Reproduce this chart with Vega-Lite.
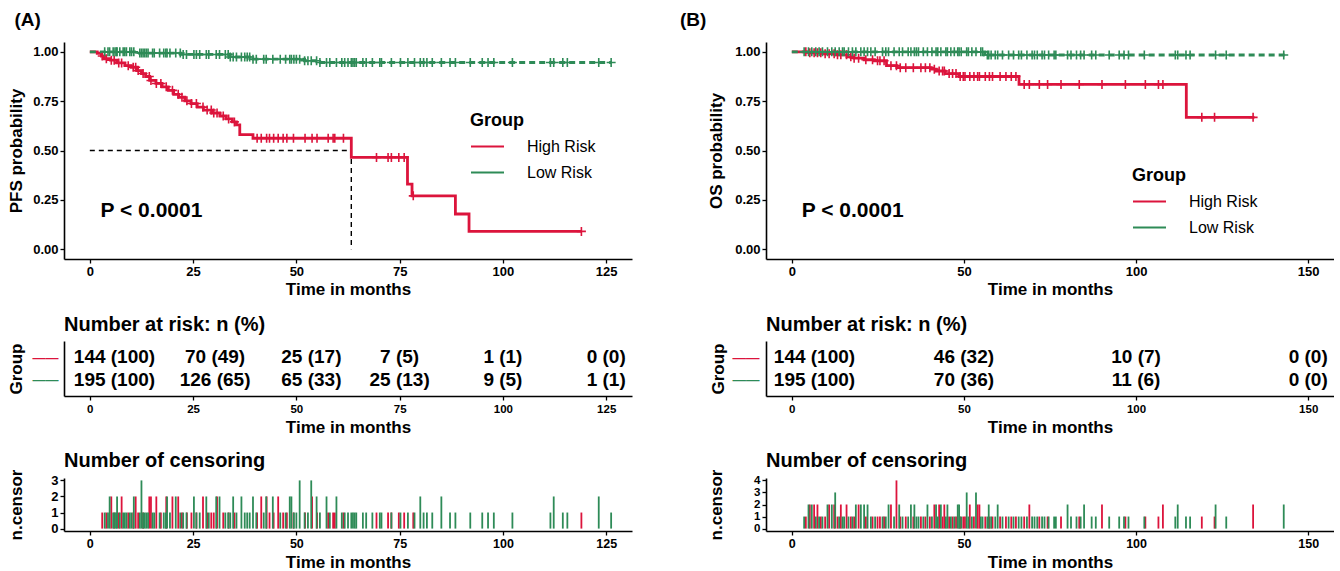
{
"$schema": "https://vega.github.io/schema/vega-lite/v6.json",
"background": "white",
"padding": {"left": 7, "top": 11, "right": 0, "bottom": 0},
"spacing": 48,
"resolve": {"scale": {"color": "independent"}, "legend": {"color": "independent"}},
"config": {
  "font": "Liberation Sans",
  "view": {"stroke": null},
  "axis": {"grid": false, "domainColor": "#000", "domainWidth": 1.6, "tickColor": "#000", "tickWidth": 1.3, "tickSize": 4, "labelColor": "#000", "labelFontWeight": "bold", "labelFontSize": 13, "labelPadding": 2, "titleColor": "#000", "titleFontWeight": "bold", "titleFontSize": 17, "titlePadding": 3},
  "title": {"color": "#000", "fontWeight": "bold", "anchor": "start"},
  "legend": {"symbolType": "stroke", "symbolSize": 1089, "symbolStrokeWidth": 2, "labelFontSize": 16, "labelFontWeight": "normal", "labelColor": "#000", "titleFontSize": 18, "titleFontWeight": "bold", "titleColor": "#000", "labelOffset": 22, "rowPadding": -7, "titlePadding": -1, "symbolDash": [1, 0]}
},
"datasets": {
  "curveA": [
    {"group":"High Risk","time":0,"surv":1},{"group":"High Risk","time":1.8,"surv":0.993},{"group":"High Risk","time":2.8,"surv":0.979},{"group":"High Risk","time":3.5,"surv":0.965},{"group":"High Risk","time":5,"surv":0.958},{"group":"High Risk","time":6.5,"surv":0.944},{"group":"High Risk","time":8.5,"surv":0.93},{"group":"High Risk","time":10,"surv":0.922},{"group":"High Risk","time":11.5,"surv":0.905},{"group":"High Risk","time":12.5,"surv":0.89},{"group":"High Risk","time":13.5,"surv":0.875},{"group":"High Risk","time":14.5,"surv":0.855},{"group":"High Risk","time":16,"surv":0.84},{"group":"High Risk","time":17.5,"surv":0.823},{"group":"High Risk","time":19,"surv":0.805},{"group":"High Risk","time":20.3,"surv":0.785},{"group":"High Risk","time":21.5,"surv":0.77},{"group":"High Risk","time":23,"surv":0.752},{"group":"High Risk","time":24.5,"surv":0.738},{"group":"High Risk","time":26,"surv":0.72},{"group":"High Risk","time":27.5,"surv":0.705},{"group":"High Risk","time":29.5,"surv":0.69},{"group":"High Risk","time":31.5,"surv":0.675},{"group":"High Risk","time":33,"surv":0.66},{"group":"High Risk","time":34.5,"surv":0.645},{"group":"High Risk","time":35.5,"surv":0.63},{"group":"High Risk","time":36.3,"surv":0.58},{"group":"High Risk","time":39.5,"surv":0.562},{"group":"High Risk","time":63.3,"surv":0.465},{"group":"High Risk","time":76.9,"surv":0.33},{"group":"High Risk","time":78,"surv":0.27},{"group":"High Risk","time":88.5,"surv":0.178},{"group":"High Risk","time":91.8,"surv":0.09},{"group":"High Risk","time":119,"surv":0.09},
    {"group":"Low Risk","time":0,"surv":1},{"group":"Low Risk","time":12,"surv":0.994},{"group":"Low Risk","time":22,"surv":0.987},{"group":"Low Risk","time":34,"surv":0.974},{"group":"Low Risk","time":39.5,"surv":0.963},{"group":"Low Risk","time":52,"surv":0.955},{"group":"Low Risk","time":55.5,"surv":0.946},{"group":"Low Risk","time":126.3,"surv":0.946}
  ],
  "medA": [{"time":0,"surv":0.5,"ord":1},{"time":63.3,"surv":0.5,"ord":2},{"time":63.3,"surv":0,"ord":3}],
  "censA": [
    {"group":"High Risk","time":3.0,"n":1,"surv":0.979},{"group":"High Risk","time":4.0,"n":1,"surv":0.965},{"group":"High Risk","time":5.2,"n":2,"surv":0.958},{"group":"High Risk","time":5.9,"n":1,"surv":0.958},{"group":"High Risk","time":7.0,"n":1,"surv":0.944},{"group":"High Risk","time":7.7,"n":2,"surv":0.944},{"group":"High Risk","time":9.3,"n":1,"surv":0.93},{"group":"High Risk","time":10.5,"n":1,"surv":0.922},{"group":"High Risk","time":11.1,"n":2,"surv":0.922},{"group":"High Risk","time":11.7,"n":1,"surv":0.905},{"group":"High Risk","time":12.9,"n":1,"surv":0.89},{"group":"High Risk","time":14.4,"n":2,"surv":0.875},{"group":"High Risk","time":14.8,"n":2,"surv":0.855},{"group":"High Risk","time":16.1,"n":2,"surv":0.84},{"group":"High Risk","time":17.2,"n":1,"surv":0.84},{"group":"High Risk","time":18.5,"n":2,"surv":0.823},{"group":"High Risk","time":20.0,"n":2,"surv":0.805},{"group":"High Risk","time":21.4,"n":2,"surv":0.785},{"group":"High Risk","time":22.3,"n":1,"surv":0.77},{"group":"High Risk","time":23.5,"n":1,"surv":0.752},{"group":"High Risk","time":24.6,"n":1,"surv":0.738},{"group":"High Risk","time":25.8,"n":1,"surv":0.738},{"group":"High Risk","time":27.4,"n":2,"surv":0.72},{"group":"High Risk","time":28.4,"n":1,"surv":0.705},{"group":"High Risk","time":29.4,"n":1,"surv":0.705},{"group":"High Risk","time":30.0,"n":1,"surv":0.69},{"group":"High Risk","time":30.8,"n":2,"surv":0.69},{"group":"High Risk","time":32.3,"n":1,"surv":0.675},{"group":"High Risk","time":33.6,"n":1,"surv":0.66},{"group":"High Risk","time":35.0,"n":1,"surv":0.645},{"group":"High Risk","time":40.5,"n":1,"surv":0.562},{"group":"High Risk","time":41.5,"n":2,"surv":0.562},{"group":"High Risk","time":42.8,"n":2,"surv":0.562},{"group":"High Risk","time":43.5,"n":1,"surv":0.562},{"group":"High Risk","time":44.5,"n":1,"surv":0.562},{"group":"High Risk","time":45.6,"n":2,"surv":0.562},{"group":"High Risk","time":46.8,"n":1,"surv":0.562},{"group":"High Risk","time":47.7,"n":1,"surv":0.562},{"group":"High Risk","time":49.3,"n":1,"surv":0.562},{"group":"High Risk","time":52.1,"n":1,"surv":0.562},{"group":"High Risk","time":53.8,"n":2,"surv":0.562},{"group":"High Risk","time":55.0,"n":1,"surv":0.562},{"group":"High Risk","time":57.7,"n":1,"surv":0.562},{"group":"High Risk","time":58.9,"n":1,"surv":0.562},{"group":"High Risk","time":59.3,"n":1,"surv":0.562},{"group":"High Risk","time":61.4,"n":1,"surv":0.562},{"group":"High Risk","time":69.4,"n":1,"surv":0.465},{"group":"High Risk","time":72.2,"n":1,"surv":0.465},{"group":"High Risk","time":73.0,"n":1,"surv":0.465},{"group":"High Risk","time":74.8,"n":1,"surv":0.465},{"group":"High Risk","time":76.1,"n":1,"surv":0.465},{"group":"High Risk","time":78.3,"n":1,"surv":0.27},{"group":"High Risk","time":119,"n":1,"surv":0.09},
    {"group":"Low Risk","time":3.6,"n":1,"surv":1},{"group":"Low Risk","time":4.4,"n":1,"surv":1},{"group":"Low Risk","time":4.8,"n":2,"surv":1},{"group":"Low Risk","time":5.65,"n":1,"surv":1},{"group":"Low Risk","time":6.1,"n":1,"surv":1},{"group":"Low Risk","time":6.45,"n":1,"surv":1},{"group":"Low Risk","time":6.6,"n":2,"surv":1},{"group":"Low Risk","time":7.26,"n":1,"surv":1},{"group":"Low Risk","time":8.07,"n":1,"surv":1},{"group":"Low Risk","time":8.47,"n":1,"surv":1},{"group":"Low Risk","time":8.87,"n":1,"surv":1},{"group":"Low Risk","time":9.68,"n":1,"surv":1},{"group":"Low Risk","time":10.1,"n":1,"surv":1},{"group":"Low Risk","time":10.65,"n":2,"surv":1},{"group":"Low Risk","time":12.1,"n":1,"surv":0.994},{"group":"Low Risk","time":12.5,"n":3,"surv":0.994},{"group":"Low Risk","time":12.9,"n":1,"surv":0.994},{"group":"Low Risk","time":13.3,"n":1,"surv":0.994},{"group":"Low Risk","time":13.7,"n":1,"surv":0.994},{"group":"Low Risk","time":14.1,"n":1,"surv":0.994},{"group":"Low Risk","time":15.2,"n":1,"surv":0.994},{"group":"Low Risk","time":15.6,"n":1,"surv":0.994},{"group":"Low Risk","time":16.9,"n":1,"surv":0.994},{"group":"Low Risk","time":17.9,"n":1,"surv":0.994},{"group":"Low Risk","time":18.4,"n":1,"surv":0.994},{"group":"Low Risk","time":18.7,"n":2,"surv":0.994},{"group":"Low Risk","time":19.4,"n":1,"surv":0.994},{"group":"Low Risk","time":20.8,"n":2,"surv":0.994},{"group":"Low Risk","time":21.9,"n":1,"surv":0.994},{"group":"Low Risk","time":22.6,"n":1,"surv":0.987},{"group":"Low Risk","time":23.4,"n":1,"surv":0.987},{"group":"Low Risk","time":25.2,"n":2,"surv":0.987},{"group":"Low Risk","time":25.8,"n":1,"surv":0.987},{"group":"Low Risk","time":26.6,"n":1,"surv":0.987},{"group":"Low Risk","time":28.2,"n":2,"surv":0.987},{"group":"Low Risk","time":28.8,"n":1,"surv":0.987},{"group":"Low Risk","time":30.6,"n":2,"surv":0.987},{"group":"Low Risk","time":31.4,"n":2,"surv":0.987},{"group":"Low Risk","time":32.8,"n":1,"surv":0.987},{"group":"Low Risk","time":33.5,"n":1,"surv":0.987},{"group":"Low Risk","time":34.0,"n":1,"surv":0.974},{"group":"Low Risk","time":34.7,"n":2,"surv":0.974},{"group":"Low Risk","time":35.5,"n":1,"surv":0.974},{"group":"Low Risk","time":36.7,"n":2,"surv":0.974},{"group":"Low Risk","time":37.5,"n":1,"surv":0.974},{"group":"Low Risk","time":38.1,"n":1,"surv":0.974},{"group":"Low Risk","time":38.7,"n":1,"surv":0.974},{"group":"Low Risk","time":39.5,"n":2,"surv":0.963},{"group":"Low Risk","time":40.3,"n":1,"surv":0.963},{"group":"Low Risk","time":42.1,"n":1,"surv":0.963},{"group":"Low Risk","time":42.7,"n":2,"surv":0.963},{"group":"Low Risk","time":44.3,"n":2,"surv":0.963},{"group":"Low Risk","time":46.1,"n":1,"surv":0.963},{"group":"Low Risk","time":47.4,"n":1,"surv":0.963},{"group":"Low Risk","time":48.4,"n":2,"surv":0.963},{"group":"Low Risk","time":48.8,"n":2,"surv":0.963},{"group":"Low Risk","time":49.4,"n":1,"surv":0.963},{"group":"Low Risk","time":50.0,"n":1,"surv":0.963},{"group":"Low Risk","time":50.8,"n":3,"surv":0.963},{"group":"Low Risk","time":52.0,"n":1,"surv":0.955},{"group":"Low Risk","time":52.8,"n":1,"surv":0.955},{"group":"Low Risk","time":53.6,"n":3,"surv":0.955},{"group":"Low Risk","time":54.9,"n":2,"surv":0.955},{"group":"Low Risk","time":55.7,"n":1,"surv":0.946},{"group":"Low Risk","time":57.3,"n":2,"surv":0.946},{"group":"Low Risk","time":58.1,"n":1,"surv":0.946},{"group":"Low Risk","time":59.7,"n":2,"surv":0.946},{"group":"Low Risk","time":61.0,"n":1,"surv":0.946},{"group":"Low Risk","time":61.7,"n":1,"surv":0.946},{"group":"Low Risk","time":62.5,"n":1,"surv":0.946},{"group":"Low Risk","time":63.3,"n":1,"surv":0.946},{"group":"Low Risk","time":63.7,"n":1,"surv":0.946},{"group":"Low Risk","time":64.1,"n":1,"surv":0.946},{"group":"Low Risk","time":64.5,"n":1,"surv":0.946},{"group":"Low Risk","time":66.1,"n":1,"surv":0.946},{"group":"Low Risk","time":66.9,"n":1,"surv":0.946},{"group":"Low Risk","time":68.4,"n":1,"surv":0.946},{"group":"Low Risk","time":70.2,"n":1,"surv":0.946},{"group":"Low Risk","time":70.6,"n":1,"surv":0.946},{"group":"Low Risk","time":73.0,"n":1,"surv":0.946},{"group":"Low Risk","time":75.2,"n":1,"surv":0.946},{"group":"Low Risk","time":77.0,"n":1,"surv":0.946},{"group":"Low Risk","time":78.6,"n":1,"surv":0.946},{"group":"Low Risk","time":80.0,"n":2,"surv":0.946},{"group":"Low Risk","time":80.8,"n":1,"surv":0.946},{"group":"Low Risk","time":81.6,"n":1,"surv":0.946},{"group":"Low Risk","time":82.9,"n":1,"surv":0.946},{"group":"Low Risk","time":85.1,"n":2,"surv":0.946},{"group":"Low Risk","time":87.2,"n":1,"surv":0.946},{"group":"Low Risk","time":88.5,"n":1,"surv":0.946},{"group":"Low Risk","time":92.1,"n":1,"surv":0.946},{"group":"Low Risk","time":95.0,"n":1,"surv":0.946},{"group":"Low Risk","time":96.4,"n":1,"surv":0.946},{"group":"Low Risk","time":97.8,"n":1,"surv":0.946},{"group":"Low Risk","time":102.3,"n":1,"surv":0.946},{"group":"Low Risk","time":111.5,"n":1,"surv":0.946},{"group":"Low Risk","time":112.3,"n":2,"surv":0.946},{"group":"Low Risk","time":114.5,"n":1,"surv":0.946},{"group":"Low Risk","time":115.6,"n":1,"surv":0.946},{"group":"Low Risk","time":123.2,"n":2,"surv":0.946},{"group":"Low Risk","time":126.2,"n":1,"surv":0.946}
  ],
  "riskA": [
    {"group":"High Risk","time":0,"label":"144 (100)"},{"group":"High Risk","time":25,"label":"70 (49)"},{"group":"High Risk","time":50,"label":"25 (17)"},{"group":"High Risk","time":75,"label":"7 (5)"},{"group":"High Risk","time":100,"label":"1 (1)"},{"group":"High Risk","time":125,"label":"0 (0)"},
    {"group":"Low Risk","time":0,"label":"195 (100)"},{"group":"Low Risk","time":25,"label":"126 (65)"},{"group":"Low Risk","time":50,"label":"65 (33)"},{"group":"Low Risk","time":75,"label":"25 (13)"},{"group":"Low Risk","time":100,"label":"9 (5)"},{"group":"Low Risk","time":125,"label":"1 (1)"}
  ],
  "curveB": [
    {"group":"High Risk","time":0,"surv":1},{"group":"High Risk","time":5,"surv":0.995},{"group":"High Risk","time":9.5,"surv":0.99},{"group":"High Risk","time":13,"surv":0.985},{"group":"High Risk","time":16,"surv":0.975},{"group":"High Risk","time":18,"surv":0.968},{"group":"High Risk","time":21,"surv":0.96},{"group":"High Risk","time":24,"surv":0.955},{"group":"High Risk","time":27.5,"surv":0.93},{"group":"High Risk","time":30.5,"surv":0.92},{"group":"High Risk","time":40.5,"surv":0.912},{"group":"High Risk","time":42,"surv":0.903},{"group":"High Risk","time":44.5,"surv":0.89},{"group":"High Risk","time":48.5,"surv":0.875},{"group":"High Risk","time":66,"surv":0.835},{"group":"High Risk","time":114.6,"surv":0.668},{"group":"High Risk","time":134.4,"surv":0.668},
    {"group":"Low Risk","time":0,"surv":1},{"group":"Low Risk","time":56,"surv":0.984},{"group":"Low Risk","time":143.3,"surv":0.984}
  ],
  "censB": [
    {"group":"High Risk","time":4.07,"n":1,"surv":1},{"group":"High Risk","time":5.23,"n":2,"surv":0.995},{"group":"High Risk","time":6.48,"n":2,"surv":0.995},{"group":"High Risk","time":7.45,"n":2,"surv":0.995},{"group":"High Risk","time":8.42,"n":1,"surv":0.995},{"group":"High Risk","time":9.68,"n":1,"surv":0.99},{"group":"High Risk","time":10.84,"n":2,"surv":0.99},{"group":"High Risk","time":12.3,"n":2,"surv":0.99},{"group":"High Risk","time":13.27,"n":1,"surv":0.985},{"group":"High Risk","time":14.24,"n":2,"surv":0.985},{"group":"High Risk","time":15.9,"n":2,"surv":0.985},{"group":"High Risk","time":17.14,"n":1,"surv":0.975},{"group":"High Risk","time":18.1,"n":1,"surv":0.968},{"group":"High Risk","time":19.4,"n":2,"surv":0.968},{"group":"High Risk","time":21.5,"n":1,"surv":0.96},{"group":"High Risk","time":23.45,"n":1,"surv":0.96},{"group":"High Risk","time":24.9,"n":1,"surv":0.955},{"group":"High Risk","time":25.6,"n":1,"surv":0.955},{"group":"High Risk","time":26.8,"n":1,"surv":0.955},{"group":"High Risk","time":28.8,"n":2,"surv":0.93},{"group":"High Risk","time":30.4,"n":4,"surv":0.93},{"group":"High Risk","time":31.5,"n":1,"surv":0.92},{"group":"High Risk","time":33.1,"n":1,"surv":0.92},{"group":"High Risk","time":35.3,"n":1,"surv":0.92},{"group":"High Risk","time":37.5,"n":1,"surv":0.92},{"group":"High Risk","time":38.8,"n":1,"surv":0.92},{"group":"High Risk","time":40.1,"n":1,"surv":0.92},{"group":"High Risk","time":41.4,"n":2,"surv":0.912},{"group":"High Risk","time":42.8,"n":2,"surv":0.903},{"group":"High Risk","time":43.8,"n":1,"surv":0.903},{"group":"High Risk","time":44.3,"n":2,"surv":0.903},{"group":"High Risk","time":45.7,"n":1,"surv":0.89},{"group":"High Risk","time":46.7,"n":1,"surv":0.89},{"group":"High Risk","time":47.7,"n":1,"surv":0.89},{"group":"High Risk","time":48.9,"n":1,"surv":0.875},{"group":"High Risk","time":49.8,"n":1,"surv":0.875},{"group":"High Risk","time":50.3,"n":1,"surv":0.875},{"group":"High Risk","time":51.7,"n":2,"surv":0.875},{"group":"High Risk","time":52.9,"n":1,"surv":0.875},{"group":"High Risk","time":53.98,"n":2,"surv":0.875},{"group":"High Risk","time":54.5,"n":2,"surv":0.875},{"group":"High Risk","time":56.2,"n":1,"surv":0.875},{"group":"High Risk","time":57.4,"n":1,"surv":0.875},{"group":"High Risk","time":58.3,"n":1,"surv":0.875},{"group":"High Risk","time":60.5,"n":1,"surv":0.875},{"group":"High Risk","time":62.2,"n":1,"surv":0.875},{"group":"High Risk","time":63.75,"n":1,"surv":0.875},{"group":"High Risk","time":65.1,"n":1,"surv":0.875},{"group":"High Risk","time":67.5,"n":1,"surv":0.835},{"group":"High Risk","time":69.0,"n":2,"surv":0.835},{"group":"High Risk","time":71.9,"n":1,"surv":0.835},{"group":"High Risk","time":74.3,"n":1,"surv":0.835},{"group":"High Risk","time":78.2,"n":1,"surv":0.835},{"group":"High Risk","time":83.5,"n":1,"surv":0.835},{"group":"High Risk","time":90.1,"n":2,"surv":0.835},{"group":"High Risk","time":96.9,"n":1,"surv":0.835},{"group":"High Risk","time":102.7,"n":1,"surv":0.835},{"group":"High Risk","time":106.5,"n":1,"surv":0.835},{"group":"High Risk","time":107.8,"n":2,"surv":0.835},{"group":"High Risk","time":119.1,"n":1,"surv":0.668},{"group":"High Risk","time":122.8,"n":1,"surv":0.668},{"group":"High Risk","time":134.0,"n":2,"surv":0.668},
    {"group":"Low Risk","time":3.58,"n":1,"surv":1},{"group":"Low Risk","time":4.85,"n":2,"surv":1},{"group":"Low Risk","time":5.8,"n":2,"surv":1},{"group":"Low Risk","time":6.96,"n":1,"surv":1},{"group":"Low Risk","time":7.93,"n":1,"surv":1},{"group":"Low Risk","time":8.9,"n":1,"surv":1},{"group":"Low Risk","time":10.36,"n":2,"surv":1},{"group":"Low Risk","time":11.62,"n":2,"surv":1},{"group":"Low Risk","time":12.6,"n":3,"surv":1},{"group":"Low Risk","time":13.76,"n":1,"surv":1},{"group":"Low Risk","time":14.73,"n":1,"surv":1},{"group":"Low Risk","time":15.2,"n":1,"surv":1},{"group":"Low Risk","time":16.46,"n":1,"surv":1},{"group":"Low Risk","time":17.6,"n":1,"surv":1},{"group":"Low Risk","time":18.6,"n":2,"surv":1},{"group":"Low Risk","time":20.05,"n":2,"surv":1},{"group":"Low Risk","time":21.0,"n":2,"surv":1},{"group":"Low Risk","time":22.0,"n":2,"surv":1},{"group":"Low Risk","time":22.96,"n":1,"surv":1},{"group":"Low Risk","time":24.2,"n":1,"surv":1},{"group":"Low Risk","time":26.35,"n":1,"surv":1},{"group":"Low Risk","time":27.3,"n":1,"surv":1},{"group":"Low Risk","time":28.1,"n":2,"surv":1},{"group":"Low Risk","time":29.7,"n":1,"surv":1},{"group":"Low Risk","time":31.2,"n":2,"surv":1},{"group":"Low Risk","time":32.16,"n":1,"surv":1},{"group":"Low Risk","time":33.8,"n":1,"surv":1},{"group":"Low Risk","time":34.6,"n":2,"surv":1},{"group":"Low Risk","time":35.6,"n":2,"surv":1},{"group":"Low Risk","time":36.2,"n":1,"surv":1},{"group":"Low Risk","time":36.8,"n":1,"surv":1},{"group":"Low Risk","time":38.2,"n":1,"surv":1},{"group":"Low Risk","time":39.4,"n":2,"surv":1},{"group":"Low Risk","time":40.7,"n":1,"surv":1},{"group":"Low Risk","time":41.9,"n":2,"surv":1},{"group":"Low Risk","time":42.4,"n":1,"surv":1},{"group":"Low Risk","time":43.3,"n":2,"surv":1},{"group":"Low Risk","time":44.75,"n":1,"surv":1},{"group":"Low Risk","time":45.2,"n":2,"surv":1},{"group":"Low Risk","time":46.2,"n":1,"surv":1},{"group":"Low Risk","time":47.2,"n":1,"surv":1},{"group":"Low Risk","time":48.2,"n":2,"surv":1},{"group":"Low Risk","time":48.6,"n":2,"surv":1},{"group":"Low Risk","time":49.2,"n":1,"surv":1},{"group":"Low Risk","time":50.8,"n":3,"surv":1},{"group":"Low Risk","time":51.3,"n":1,"surv":1},{"group":"Low Risk","time":52.3,"n":1,"surv":1},{"group":"Low Risk","time":53.5,"n":3,"surv":1},{"group":"Low Risk","time":54.9,"n":1,"surv":1},{"group":"Low Risk","time":55.4,"n":1,"surv":1},{"group":"Low Risk","time":56.8,"n":1,"surv":0.984},{"group":"Low Risk","time":57.2,"n":2,"surv":0.984},{"group":"Low Risk","time":57.9,"n":1,"surv":0.984},{"group":"Low Risk","time":59.1,"n":1,"surv":0.984},{"group":"Low Risk","time":59.8,"n":2,"surv":0.984},{"group":"Low Risk","time":61.2,"n":1,"surv":0.984},{"group":"Low Risk","time":62.98,"n":1,"surv":0.984},{"group":"Low Risk","time":64.4,"n":1,"surv":0.984},{"group":"Low Risk","time":65.9,"n":1,"surv":0.984},{"group":"Low Risk","time":66.7,"n":1,"surv":0.984},{"group":"Low Risk","time":68.3,"n":1,"surv":0.984},{"group":"Low Risk","time":69.8,"n":1,"surv":0.984},{"group":"Low Risk","time":70.5,"n":1,"surv":0.984},{"group":"Low Risk","time":71.3,"n":1,"surv":0.984},{"group":"Low Risk","time":72.7,"n":1,"surv":0.984},{"group":"Low Risk","time":73.4,"n":1,"surv":0.984},{"group":"Low Risk","time":74.6,"n":1,"surv":0.984},{"group":"Low Risk","time":76.2,"n":1,"surv":0.984},{"group":"Low Risk","time":76.7,"n":1,"surv":0.984},{"group":"Low Risk","time":80.1,"n":2,"surv":0.984},{"group":"Low Risk","time":81.1,"n":1,"surv":0.984},{"group":"Low Risk","time":82.7,"n":1,"surv":0.984},{"group":"Low Risk","time":83.9,"n":1,"surv":0.984},{"group":"Low Risk","time":84.9,"n":2,"surv":0.984},{"group":"Low Risk","time":87.1,"n":1,"surv":0.984},{"group":"Low Risk","time":88.3,"n":1,"surv":0.984},{"group":"Low Risk","time":92.2,"n":1,"surv":0.984},{"group":"Low Risk","time":95.1,"n":1,"surv":0.984},{"group":"Low Risk","time":96.5,"n":1,"surv":0.984},{"group":"Low Risk","time":97.8,"n":1,"surv":0.984},{"group":"Low Risk","time":102.4,"n":1,"surv":0.984},{"group":"Low Risk","time":111.4,"n":1,"surv":0.984},{"group":"Low Risk","time":112.1,"n":2,"surv":0.984},{"group":"Low Risk","time":114.5,"n":1,"surv":0.984},{"group":"Low Risk","time":115.7,"n":1,"surv":0.984},{"group":"Low Risk","time":123.1,"n":2,"surv":0.984},{"group":"Low Risk","time":126.2,"n":1,"surv":0.984},{"group":"Low Risk","time":142.9,"n":2,"surv":0.984}
  ],
  "riskB": [
    {"group":"High Risk","time":0,"label":"144 (100)"},{"group":"High Risk","time":50,"label":"46 (32)"},{"group":"High Risk","time":100,"label":"10 (7)"},{"group":"High Risk","time":150,"label":"0 (0)"},
    {"group":"Low Risk","time":0,"label":"195 (100)"},{"group":"Low Risk","time":50,"label":"70 (36)"},{"group":"Low Risk","time":100,"label":"11 (6)"},{"group":"Low Risk","time":150,"label":"0 (0)"}
  ]
},
"hconcat": [
 {
  "title": {"text": "(A)", "fontSize": 19, "anchor": "start", "offset": 12, "dx": 7},
  "spacing": 82,
  "bounds": "flush",
  "vconcat": [
   {
    "width": 568, "height": 217,
    "layer": [
     {"data": {"name": "medA"},
      "mark": {"type": "line", "color": "#000", "strokeDash": [5, 4], "strokeWidth": 1.4},
      "encoding": {
        "x": {"field": "time", "type": "quantitative", "scale": {"domain": [-6.25, 131.25], "nice": false, "zero": false}, "axis": {"values": [0, 25, 50, 75, 100, 125], "title": "Time in months"}},
        "y": {"field": "surv", "type": "quantitative", "scale": {"domain": [-0.05, 1.05], "nice": false, "zero": false}, "axis": {"values": [0, 0.25, 0.5, 0.75, 1], "format": ".2f", "title": "PFS probability", "titleX": -38.5, "titleY": 108.5}},
        "order": {"field": "ord", "type": "quantitative"}
      }},
     {"data": {"name": "curveA"},
      "transform": [{"filter": "datum.group === 'High Risk'"}],
      "mark": {"type": "line", "interpolate": "step-after", "strokeWidth": 2.8},
      "encoding": {
        "x": {"field": "time", "type": "quantitative"},
        "y": {"field": "surv", "type": "quantitative"},
        "color": {"field": "group", "type": "nominal", "scale": {"domain": ["High Risk", "Low Risk"], "range": ["#DC143C", "#2E8B57"]}, "legend": {"title": "Group", "orient": "none", "legendX": 406, "legendY": 70}}
      }},
     {"data": {"name": "curveA"},
      "transform": [{"filter": "datum.group === 'Low Risk'"}],
      "mark": {"type": "line", "interpolate": "step-after", "strokeWidth": 2.8, "strokeDash": [6, 4]},
      "encoding": {
        "x": {"field": "time", "type": "quantitative"},
        "y": {"field": "surv", "type": "quantitative"},
        "color": {"field": "group", "type": "nominal"}
      }},
     {"data": {"name": "censA"},
      "mark": {"type": "point", "shape": "M-1,0H1M0,-1V1", "filled": false, "size": 81, "strokeWidth": 1.6, "opacity": 1},
      "encoding": {
        "x": {"field": "time", "type": "quantitative"},
        "y": {"field": "surv", "type": "quantitative"},
        "color": {"field": "group", "type": "nominal"}
      }},
     {"data": {"values": [{"time": 2.6, "surv": 0.195, "label": "P < 0.0001"}]},
      "mark": {"type": "text", "align": "left", "baseline": "middle", "fontSize": 21, "fontWeight": "bold", "color": "#000"},
      "encoding": {
        "x": {"field": "time", "type": "quantitative"},
        "y": {"field": "surv", "type": "quantitative"},
        "text": {"field": "label"}
      }}
    ]
   },
   {
    "width": 568, "height": 55,
    "title": {"text": "Number at risk: n (%)", "fontSize": 20, "frame": "group", "offset": 6},
    "data": {"name": "riskA"},
    "encoding": {
      "x": {"field": "time", "type": "quantitative", "scale": {"domain": [-6.25, 131.25], "nice": false, "zero": false}, "axis": {"values": [0, 25, 50, 75, 100, 125], "title": "Time in months", "labelFontSize": 11.5, "labelPadding": 3, "titlePadding": 5}},
      "y": {"field": "group", "type": "nominal", "scale": {"type": "point", "domain": ["High Risk", "Low Risk"], "padding": 0.72}, "axis": {"title": "Group", "titleX": -38.5, "titleY": 27.5, "ticks": false, "tickSize": 0, "labelExpr": "'——'", "labelFontSize": 13, "labelFontWeight": "bold", "labelPadding": 6, "labelColor": {"condition": {"test": "datum.value === 'High Risk'", "value": "#DC143C"}, "value": "#2E8B57"}}},
      "text": {"field": "label"}
    },
    "layer": [
      {"transform": [{"filter": "datum.time === 0"}], "mark": {"type": "text", "align": "left", "dx": -16, "fontSize": 19, "fontWeight": "bold", "baseline": "middle", "color": "#000"}},
      {"transform": [{"filter": "datum.time === 25"}], "mark": {"type": "text", "align": "center", "dx": 22, "fontSize": 19, "fontWeight": "bold", "baseline": "middle", "color": "#000"}},
      {"transform": [{"filter": "datum.time === 50"}], "mark": {"type": "text", "align": "center", "dx": 15, "fontSize": 19, "fontWeight": "bold", "baseline": "middle", "color": "#000"}},
      {"transform": [{"filter": "datum.time > 50"}], "mark": {"type": "text", "align": "center", "fontSize": 19, "fontWeight": "bold", "baseline": "middle", "color": "#000"}}
    ]
   },
   {
    "width": 568, "height": 53,
    "title": {"text": "Number of censoring", "fontSize": 20, "frame": "group", "offset": -2},
    "data": {"name": "censA"},
    "mark": {"type": "bar", "size": 1.8, "clip": true},
    "encoding": {
      "x": {"field": "time", "type": "quantitative", "scale": {"domain": [-6.25, 131.25], "nice": false, "zero": false, "padding": 0}, "axis": {"values": [0, 25, 50, 75, 100, 125], "title": "Time in months", "labelFontSize": 12.5, "titlePadding": 5}},
      "y": {"field": "n", "type": "quantitative", "scale": {"domain": [-0.15, 3.15], "nice": false, "zero": false}, "axis": {"values": [0, 1, 2, 3], "title": "n.censor", "titleX": -38.5, "titleY": 26.5, "labelOverlap": false}},
      "y2": {"datum": 0},
      "color": {"field": "group", "type": "nominal", "scale": {"domain": ["High Risk", "Low Risk"], "range": ["#DC143C", "#2E8B57"]}, "legend": null}
    }
   }
  ]
 },
 {
  "title": {"text": "(B)", "fontSize": 19, "anchor": "start", "offset": 12, "dx": -27},
  "spacing": 82,
  "bounds": "flush",
  "vconcat": [
   {
    "width": 568, "height": 217,
    "layer": [
     {"data": {"name": "curveB"},
      "transform": [{"filter": "datum.group === 'High Risk'"}],
      "mark": {"type": "line", "interpolate": "step-after", "strokeWidth": 2.8},
      "encoding": {
        "x": {"field": "time", "type": "quantitative", "scale": {"domain": [-7.5, 157.5], "nice": false, "zero": false}, "axis": {"values": [0, 50, 100, 150], "title": "Time in months"}},
        "y": {"field": "surv", "type": "quantitative", "scale": {"domain": [-0.05, 1.05], "nice": false, "zero": false}, "axis": {"values": [0, 0.25, 0.5, 0.75, 1], "format": ".2f", "title": "OS probability", "titleX": -41, "titleY": 108.5}},
        "color": {"field": "group", "type": "nominal", "scale": {"domain": ["High Risk", "Low Risk"], "range": ["#DC143C", "#2E8B57"]}, "legend": {"title": "Group", "orient": "none", "legendX": 366, "legendY": 125}}
      }},
     {"data": {"name": "curveB"},
      "transform": [{"filter": "datum.group === 'Low Risk'"}],
      "mark": {"type": "line", "interpolate": "step-after", "strokeWidth": 2.8, "strokeDash": [6, 4]},
      "encoding": {
        "x": {"field": "time", "type": "quantitative"},
        "y": {"field": "surv", "type": "quantitative"},
        "color": {"field": "group", "type": "nominal"}
      }},
     {"data": {"name": "censB"},
      "mark": {"type": "point", "shape": "M-1,0H1M0,-1V1", "filled": false, "size": 81, "strokeWidth": 1.6, "opacity": 1},
      "encoding": {
        "x": {"field": "time", "type": "quantitative"},
        "y": {"field": "surv", "type": "quantitative"},
        "color": {"field": "group", "type": "nominal"}
      }},
     {"data": {"values": [{"time": 2.9, "surv": 0.195, "label": "P < 0.0001"}]},
      "mark": {"type": "text", "align": "left", "baseline": "middle", "fontSize": 21, "fontWeight": "bold", "color": "#000"},
      "encoding": {
        "x": {"field": "time", "type": "quantitative"},
        "y": {"field": "surv", "type": "quantitative"},
        "text": {"field": "label"}
      }}
    ]
   },
   {
    "width": 568, "height": 55,
    "title": {"text": "Number at risk: n (%)", "fontSize": 20, "frame": "group", "offset": 6},
    "data": {"name": "riskB"},
    "encoding": {
      "x": {"field": "time", "type": "quantitative", "scale": {"domain": [-7.5, 157.5], "nice": false, "zero": false}, "axis": {"values": [0, 50, 100, 150], "title": "Time in months", "labelFontSize": 11.5, "labelPadding": 3, "titlePadding": 5}},
      "y": {"field": "group", "type": "nominal", "scale": {"type": "point", "domain": ["High Risk", "Low Risk"], "padding": 0.72}, "axis": {"title": "Group", "titleX": -39, "titleY": 27.5, "ticks": false, "tickSize": 0, "labelExpr": "'——'", "labelFontSize": 13.5, "labelFontWeight": "bold", "labelPadding": 7, "labelColor": {"condition": {"test": "datum.value === 'High Risk'", "value": "#DC143C"}, "value": "#2E8B57"}}},
      "text": {"field": "label"}
    },
    "layer": [
      {"transform": [{"filter": "datum.time === 0"}], "mark": {"type": "text", "align": "left", "dx": -18, "fontSize": 19, "fontWeight": "bold", "baseline": "middle", "color": "#000"}},
      {"transform": [{"filter": "datum.time > 0"}], "mark": {"type": "text", "align": "center", "fontSize": 19, "fontWeight": "bold", "baseline": "middle", "color": "#000"}}
    ]
   },
   {
    "width": 568, "height": 53,
    "title": {"text": "Number of censoring", "fontSize": 20, "frame": "group", "offset": -2},
    "data": {"name": "censB"},
    "mark": {"type": "bar", "size": 1.8, "clip": true},
    "encoding": {
      "x": {"field": "time", "type": "quantitative", "scale": {"domain": [-7.5, 157.5], "nice": false, "zero": false, "padding": 0}, "axis": {"values": [0, 50, 100, 150], "title": "Time in months", "labelFontSize": 12.5, "titlePadding": 5}},
      "y": {"field": "n", "type": "quantitative", "scale": {"domain": [-0.2, 4.2], "nice": false, "zero": false}, "axis": {"values": [0, 1, 2, 3, 4], "title": "n.censor", "titleX": -41, "titleY": 26.5, "labelOverlap": false, "labelFontSize": 11.5}},
      "y2": {"datum": 0},
      "color": {"field": "group", "type": "nominal", "scale": {"domain": ["High Risk", "Low Risk"], "range": ["#DC143C", "#2E8B57"]}, "legend": null}
    }
   }
  ]
 }
]
}
